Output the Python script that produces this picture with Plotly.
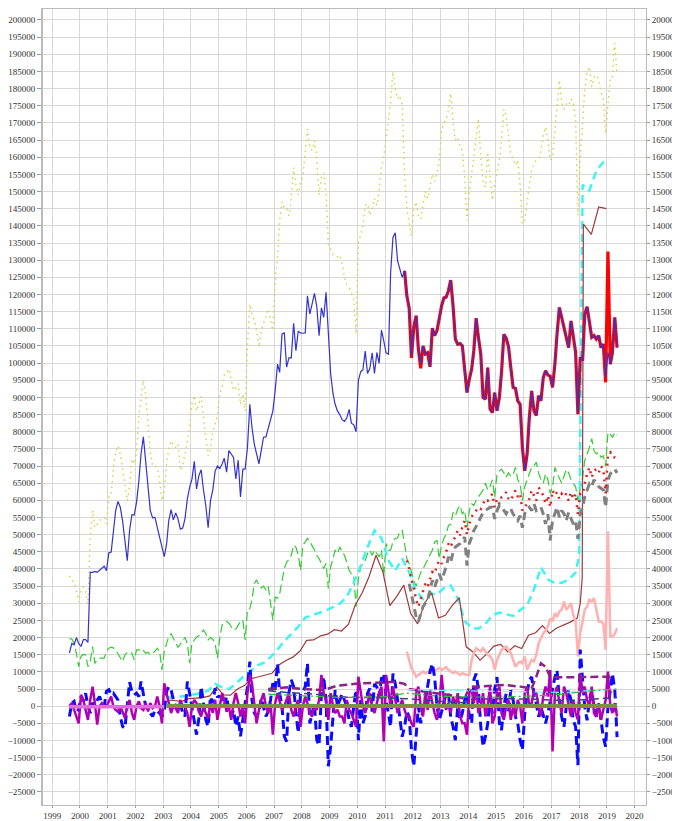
import plotly.graph_objects as go

def months(y, m, n, step=1, day=15):
    out = []
    for i in range(n):
        k = m - 1 + i * step
        out.append(f"{y + k // 12}-{k % 12 + 1:02d}-{day:02d}")
    return out

# ---- values in thousands ----
blue_solid = [
    15.5, 18.3, 17.9, 20.0, 18.3,
    17.4, 19.4, 19.4, 18.6, 39.0, 39.0, 39.3, 39.0, 39.5, 40.2, 40.8, 39.5,
    44.7, 44.9, 50.7, 57.0, 59.7, 58.0, 54.0, 48.3, 42.4, 51.2, 55.8, 55.7,
    59.4, 65.7, 73.5, 78.5, 71.5, 62.3, 57.0, 54.9, 55.0, 52.1, 49.2, 46.3,
    43.6, 47.3, 54.0, 57.3, 54.3, 56.3, 54.6, 51.6, 51.9, 54.6, 60.4, 63.8,
    66.2, 71.4, 63.3, 67.2, 68.9, 63.0, 58.5, 52.0, 59.9, 63.0, 68.5, 70.0,
    69.3, 70.6, 72.3, 68.2, 74.5, 73.5, 72.5, 66.2, 71.7, 61.0, 69.1, 69.1,
    75.4, 88.0, 81.3, 76.4, 73.5, 70.6, 74.5, 78.4, 78.5, 81.0, 84.0, 86.0,
    92.0, 99.7, 97.3, 108.5, 108.8, 98.8, 101.5, 101.5, 111.6, 103.6, 109.3, 108.8,
    108.7, 108.8, 119.6, 114.3, 117.2, 120.3, 116.7, 108.0, 116.1, 113.3, 120.6, 108.5,
    96.8, 91.0, 88.0, 86.0, 85.0, 83.5, 83.0, 84.0, 86.5, 82.5, 82.0, 80.0,
    95.0, 97.5, 98.0, 103.5, 97.0, 98.5, 103.0, 97.0, 103.1, 99.9, 109.6, 106.5,
    103.0, 102.6, 126.0, 136.6, 138.0, 129.8, 127.4, 125.0, 126.9, 119.6, 116.0, 102.1,
    110.6, 113.8, 104.1, 99.7, 105.0, 102.6, 103.0, 98.9, 110.2, 108.0, 109.4, 113.3,
    116.7, 119.0, 119.2, 121.1, 124.2, 116.7, 107.0, 105.5, 105.7, 105.0, 98.7, 91.4,
    95.3, 98.3, 103.6, 113.1, 107.5, 102.6, 90.0, 89.5, 98.7, 86.6, 85.6, 91.4,
    86.1, 90.0, 97.3, 108.4, 107.3, 104.8, 98.7, 92.9, 92.6, 89.0, 88.0, 75.4,
    68.6, 73.5, 84.0, 91.9, 86.1, 84.7, 90.5, 89.0, 95.8, 97.8, 96.5, 96.2,
    92.9, 99.7, 108.4, 116.2, 113.3, 110.4, 107.5, 104.5, 112.3, 108.4, 103.1, 85.1,
    101.7, 100.7, 114.3, 116.4, 112.3, 107.5, 108.0, 107.0, 108.0, 104.5, 105.5, 95.8,
    103.1, 99.7, 103.1, 113.3, 104.5,
]

red_solid = [
    126.9, 119.6, 116.0, 101.5,
    110.6, 113.8, 104.1, 98.5, 105.0, 102.6, 103.0, 98.9, 110.2, 108.0, 109.4, 113.3,
    116.7, 119.0, 119.2, 121.1, 124.2, 116.7, 107.0, 105.5, 105.7, 105.0, 98.7, 91.4,
    95.3, 98.3, 103.6, 113.1, 107.5, 102.6, 90.0, 89.5, 98.7, 86.6, 85.6, 91.4,
    86.1, 90.0, 97.3, 108.4, 107.3, 104.8, 98.7, 92.9, 92.6, 89.0, 88.0, 75.4,
    68.6, 73.5, 84.0, 91.9, 86.1, 84.7, 90.5, 89.0, 95.8, 97.8, 96.5, 96.2,
    92.9, 99.7, 108.4, 116.2, 113.3, 110.4, 107.5, 104.5, 112.3, 108.4, 103.1, 85.1,
    101.7, 100.7, 114.3, 116.4, 112.3, 107.5, 108.0, 107.0, 108.0, 104.5, 105.5, 94.4,
    132.5, 99.7, 103.1, 113.3, 104.5,
]

yellow_dot = [
    38.0, 37.0, 36.0, 33.5, 30.3,
    34.2, 34.7, 33.5, 29.8, 49.7, 57.0, 52.1, 53.1, 54.1, 54.6, 55.0, 53.1,
    60.9, 61.4, 69.1, 74.0, 75.9, 73.5, 69.0, 64.8, 59.9, 63.8, 72.0, 70.6,
    74.0, 85.0, 90.0, 95.0, 91.0, 82.0, 74.0, 70.1, 70.1, 69.6, 65.7, 59.9,
    62.8, 70.6, 75.0, 77.4, 75.9, 75.4, 76.4, 68.7, 70.1, 73.5, 77.4, 81.0,
    88.0, 90.5, 86.0, 88.0, 90.3, 84.0, 78.0, 73.0, 75.0, 80.0, 82.0, 85.0,
    91.0, 93.0, 96.5, 97.0, 98.3, 95.5, 92.0, 93.0, 94.0, 88.0, 91.0, 86.0,
    105.0, 117.2, 114.3, 112.4, 109.5, 104.6, 109.5, 111.6, 113.3, 115.8, 112.4, 109.5,
    124.0, 131.0, 141.5, 147.0, 145.0, 145.0, 143.0, 148.0, 157.0, 152.0, 149.0, 152.5,
    154.6, 161.9, 168.2, 163.0, 162.0, 164.8, 160.0, 149.0, 154.0, 155.5, 150.0, 134.7,
    133.3, 131.6, 131.4, 131.0, 131.5, 129.0, 125.0, 122.8, 122.1, 120.4, 118.5, 108.5,
    135.0, 137.5, 140.0, 146.0, 146.5, 143.0, 145.0, 148.0, 146.0, 150.0, 157.0, 160.0,
    165.0, 170.0, 176.0, 185.0, 180.0, 177.0, 178.0, 175.0, 155.0, 145.0, 141.0, 137.0,
    145.0, 147.0, 143.0, 142.0, 146.0, 150.0, 148.0, 152.0, 155.0, 153.0, 155.2, 159.0,
    168.0, 170.0, 171.0, 173.7, 178.6, 170.0, 165.0, 165.9, 163.0, 162.0, 154.0, 141.5,
    149.8, 155.2, 161.0, 165.9, 171.2, 160.0, 153.2, 151.3, 161.5, 155.0, 147.4, 152.0,
    156.0, 159.1, 165.0, 174.0, 172.0, 166.0, 161.0, 159.5, 157.6, 159.1, 152.0, 140.6,
    141.5, 147.0, 151.3, 156.5, 158.0, 159.1, 159.5, 162.0, 166.3, 168.8, 164.9, 159.1,
    160.0, 168.8, 174.7, 182.5, 176.0, 174.0, 175.5, 175.0, 177.0, 176.0, 170.8, 143.0,
    160.0, 170.0, 179.5, 185.0, 186.4, 180.5, 183.2, 183.9, 182.5, 179.0, 177.0, 166.9,
    176.6, 183.4, 183.5, 193.2, 184.0,
]

green_dash = [
    19.6, 19.6, 18.3, 15.4, 11.5,
    14.5, 15.1, 15.0, 11.5, 13.0, 17.4, 12.5, 13.5, 14.0, 14.0, 14.0, 15.9,
    16.9, 17.2, 17.0, 16.4, 15.4, 14.0, 13.0, 15.0, 15.7, 15.9, 15.4, 13.5,
    16.4, 16.4, 15.9, 16.2, 15.4, 15.7, 15.0, 15.6, 16.0, 16.9, 16.0, 10.6,
    15.9, 18.3, 20.3, 21.1, 19.8, 18.8, 17.2, 18.0, 19.3, 20.1, 18.3, 12.5,
    18.5, 19.3, 20.1, 20.5, 21.5, 22.2, 21.1, 19.3, 20.0, 19.5, 18.3, 14.0,
    19.8, 23.7, 24.2, 24.7, 24.2, 23.2, 22.2, 22.5, 23.5, 24.7, 25.1, 19.3,
    28.1, 28.5, 31.0, 35.8, 36.8, 35.3, 34.4, 35.0, 33.9, 35.0, 30.0, 25.1,
    31.8, 31.5, 32.8, 36.0, 40.0, 42.0, 42.7, 44.0, 46.9, 46.4, 44.0, 39.6,
    46.9, 47.9, 48.9, 48.0, 46.9, 45.5, 44.0, 43.0, 41.6, 40.1, 41.6, 34.3,
    40.6, 43.5, 45.5, 44.5, 46.4, 45.0, 44.0, 42.0, 39.6, 38.6, 38.1, 28.9,
    37.2, 40.6, 41.6, 42.5, 44.5, 45.5, 44.0, 45.5, 44.5, 43.5, 45.5, 38.0,
    47.4, 45.5, 45.5, 47.9, 48.9, 49.0, 50.8, 51.2, 47.4, 43.0, 41.6, 39.1,
    36.5, 35.0, 37.0, 39.0, 40.0, 41.5, 43.0, 44.4, 45.5, 47.8, 48.3, 43.0,
    47.0, 49.0, 50.0, 52.7, 53.0, 56.5, 55.5, 57.5, 58.5, 56.0, 57.0, 52.0,
    57.0, 59.0, 58.5, 60.0, 61.0, 62.0, 63.0, 65.0, 63.0, 64.0, 66.0, 60.9,
    67.7, 68.6, 69.1, 68.0, 66.7, 68.0, 67.0, 67.5, 69.6, 66.0, 64.8, 60.0,
    64.0, 66.0, 68.0, 69.6, 70.0, 71.1, 68.0, 66.0, 65.0, 67.7, 66.0, 62.0,
    64.0, 69.6, 68.0, 66.7, 65.0, 67.0, 69.0, 68.0, 66.0, 65.0, 64.0, 60.0,
    64.0, 66.7, 71.6, 73.5, 75.4, 78.0, 74.5, 73.5, 74.0, 72.5, 73.0, 70.0,
    79.8, 79.3, 78.3, 79.8, 79.0,
]

blue_dash = [
    -3.0, 0.9, 1.4, -1.6, -1.0,
    2.8, 1.4, 3.8, 0.0, -2.0, 1.0, 0.0, 1.8, 2.8, 1.0, 0.0, 4.3,
    4.8, 3.3, 3.8, 2.8, 1.8, -3.0, -5.9, -6.4, 1.5, 7.0, 4.3, 3.3,
    3.8, 2.8, 7.2, 3.8, 0.0, -1.1, -2.0, -3.0, -1.1, -1.6, -2.0, -3.0,
    -1.6, 4.3, 5.7, 4.8, 1.8, 0.0, -1.1, 0.9, -2.0, -3.0, 7.2, 3.8,
    0.0, -4.0, -8.3, -3.5, 5.7, 0.9, -4.0, -5.9, 2.8, 0.9, 5.2, 2.8,
    2.8, 2.3, 0.0, 2.8, -1.1, -3.0, -1.1, -5.9, -3.0, -8.8, -3.0, 0.9,
    5.7, 13.0, 1.8, -2.0, -3.0, -1.6, 2.3, 0.0, -3.0, -1.6, 1.8, 6.7,
    4.8, 12.5, 3.8, 0.0, -8.8, -10.3, 3.8, 7.7, 5.7, -2.0, -7.8, 3.8,
    4.3, 5.7, 12.5, -5.0, -2.0, 0.9, -9.8, -11.5, 3.8, 8.6, 1.8, -17.5,
    -11.7, -2.1, 4.7, 0.0, 1.8, 3.7, 1.8, 0.0, -4.0, -6.0, 0.0, 4.7,
    -9.9, 1.8, -5.0, -3.0, 3.7, 5.2, -1.6, 6.5, 5.6, 2.8, 8.1, 9.5,
    1.8, -3.1, -6.0, 9.5, 6.6, 1.8, -3.1, -8.9, -6.0, -1.6, -3.1, -12.8,
    -17.5, -7.0, 0.0, -5.0, -1.0, 1.7, 6.0, 10.0, 12.4, 8.5, 0.0, -4.1,
    -1.6, 1.7, 3.7, 3.7, -3.1, -6.0, -9.9, 0.0, -4.1, -2.0, 1.7, 3.7,
    -3.1, -5.0, 7.6, 9.5, 4.7, -6.0, -11.8, -8.9, -5.0, 2.7, -2.1, 5.0,
    8.5, -5.0, -7.0, 0.0, 3.7, -1.6, 4.7, 1.7, -3.1, -5.0, -9.9, -12.8,
    -2.1, 3.7, 7.6, 8.5, 3.7, 0.7, -3.1, -0.2, -3.1, -5.0, -2.1, 1.7,
    5.6, 8.5, 10.5, 1.7, -3.1, -6.0, -0.2, 4.7, 1.7, -4.1, -6.0, -17.2,
    16.5, 8.5, -0.2, -4.1, 1.7, 4.7, -0.2, -3.1, 0.7, -4.1, -9.0, -11.8,
    -0.2, 4.7, 9.5, 4.7, -9.0,
]

magenta = [
    0.0, 0.9, -1.0, -3.0, -5.0,
    3.3, 1.8, -1.1, -4.0, 1.8, 5.7, 0.9, -5.4, 0.0, 0.9, 0.0, 0.0,
    1.4, 2.8, 0.0, -1.1, -1.6, 0.0, -1.6, -3.5, 0.0, 1.8, -2.0, -4.0,
    0.0, 1.4, -0.6, -1.1, 0.9, -1.5, 0.9, -0.6, 0.0, 2.8, 0.0, -5.0,
    6.7, 3.8, 0.9, -2.0, 0.0, -0.6, -2.0, 1.8, 0.0, -0.2, -2.0, -6.0,
    0.0, 1.8, 0.9, -1.6, -3.0, 0.0, -2.0, -3.5, 0.9, -2.0, 1.8, -4.0,
    0.0, 3.8, 1.8, -1.6, 0.0, -4.0, 0.9, 3.8, 0.9, -3.0, 0.0, -5.0,
    3.8, 9.1, 6.7, 0.9, -5.0, -1.1, 1.8, 3.8, 0.0, -2.0, 0.9, -8.3,
    0.9, 3.8, 1.8, -1.1, 0.0, 1.8, 3.8, -1.1, -3.0, 0.0, 1.8, -6.0,
    0.0, 2.8, 0.9, -2.0, -3.0, 0.0, -1.1, 1.8, 9.1, 3.8, 1.8, -4.0,
    3.8, 0.0, -2.0, -1.0, -3.0, -3.0, -5.0, 1.8, -1.0, -2.1, -4.0, -6.0,
    8.6, 3.8, 0.0, -2.0, 0.9, 3.8, 0.0, -2.0, 0.9, 3.8, 5.7, -10.3,
    9.1, 3.8, 0.0, 5.7, 1.8, -2.0, 0.0, 1.8, -1.1, -3.0, -3.0, -5.0,
    -6.0, 3.8, 5.7, 0.0, -3.0, 3.8, -1.1, 4.8, 0.9, -2.0, -4.0, 0.0,
    9.1, 1.8, -1.1, 0.9, -2.0, 2.8, 0.0, 3.8, -3.0, -5.0, -5.0, -8.3,
    3.8, 4.8, 0.9, 5.7, -2.0, 0.0, 3.8, -3.0, 0.0, 5.7, -5.0, -3.0,
    3.8, 5.7, -2.0, -4.0, 0.0, 1.8, -4.0, 0.0, -3.0, 1.8, 0.0, -5.0,
    3.8, 5.7, 0.0, 0.9, 4.3, 3.8, 0.0, -3.0, 3.0, 5.7, 2.8, 10.5,
    -13.2, 3.8, 5.7, 0.9, -2.0, 5.7, 3.8, 0.0, -3.0, 1.8, -2.0, -4.0,
    9.6, 3.8, 5.7, 1.8, 0.0, 5.7, -2.0, -3.0, 0.9, -4.0, -1.0, 1.8,
    10.1, 0.0, -2.0, 0.9, -3.0,
]

red_dot = [
    42.5, 40.1, 36.7,
    34.3, 30.9, 29.0, 31.3, 33.3, 35.7, 34.7, 36.7, 39.1, 38.6, 41.0, 42.5,
    41.5, 43.5, 44.9, 47.4, 46.4, 48.3, 49.3, 51.2, 49.8, 52.2, 54.1, 50.0,
    53.1, 55.1, 56.5, 57.0, 58.0, 57.5, 59.0, 60.4, 59.9, 60.9, 61.9, 58.0,
    60.4, 59.0, 60.9, 61.4, 62.4, 60.5, 59.9, 61.4, 62.9, 61.0, 61.9, 57.0,
    58.0, 59.0, 60.4, 62.9, 61.4, 59.9, 63.8, 62.4, 61.4, 59.0, 61.4, 58.0,
    62.9, 61.4, 62.4, 60.4, 61.9, 61.0, 61.9, 59.9, 62.4, 60.4, 61.9, 56.0,
    62.0, 62.0, 64.8, 67.7, 69.6, 66.7, 68.6, 69.1, 68.0, 70.0, 69.0, 62.0,
    73.5, 74.0, 72.5, 72.5, 72.0,
]

gray_dash = [
    35.7, 32.8,
    29.0, 26.0, 24.6, 27.0, 29.0, 30.0, 30.9, 33.8, 36.7, 34.7, 36.7, 38.6,
    36.7, 38.6, 40.5, 43.5, 42.0, 44.9, 46.4, 46.9, 47.4, 48.3, 49.3, 41.0,
    47.4, 49.3, 51.2, 52.4, 53.6, 55.1, 56.5, 57.0, 57.5, 58.0, 58.0, 54.6,
    57.0, 58.5, 58.0, 57.0, 56.1, 57.5, 57.5, 56.0, 55.1, 54.1, 55.5, 52.0,
    56.1, 57.5, 58.0, 57.0, 59.0, 57.0, 57.5, 58.0, 56.0, 53.1, 56.0, 48.3,
    54.1, 56.5, 58.0, 55.1, 57.0, 56.1, 54.1, 56.5, 55.0, 53.1, 54.0, 48.8,
    56.0, 58.0, 61.0, 63.0, 64.8, 64.0, 66.0, 65.0, 64.0, 63.5, 63.0, 58.0,
    66.0, 67.7, 68.6, 69.1, 68.0,
]

pink = [
    15.9, 13.4, 11.0,
    10.0, 8.5, 9.1, 9.5, 10.1, 9.6, 9.9, 10.6, 10.0, 10.3, 10.6, 11.1,
    10.6, 11.0, 11.4, 10.6, 10.0, 9.6, 10.1, 9.5, 9.1, 9.6, 9.3, 9.1,
    9.1, 13.5, 15.5, 16.9, 16.4, 16.0, 16.9, 15.9, 15.0, 14.5, 13.5, 10.6,
    13.5, 15.0, 16.4, 16.9, 17.4, 16.4, 15.5, 13.5, 11.5, 12.5, 13.0, 12.5,
    14.5, 10.6, 12.0, 13.5, 13.0, 15.0, 18.3, 20.0, 21.3, 22.0, 23.2, 25.6,
    24.7, 27.1, 26.0, 27.6, 28.1, 30.5, 28.1, 29.0, 30.0, 26.6, 24.7, 14.5,
    21.3, 24.7, 28.1, 29.0, 31.0, 30.5, 31.5, 28.1, 24.7, 24.7, 24.0, 16.4,
    51.0, 20.3, 20.3, 21.0, 22.7,
]

cyan_q = [
    2.6, 2.5, 2.8, 3.0,
    3.5, 3.8, 4.5, 6.5,
    5.5, 5.0, 6.5, 8.5,
    10.0, 11.8, 12.6, 14.3,
    16.5, 19.0, 21.0, 23.2,
    25.8, 26.5, 27.3, 27.9,
    28.9, 29.9, 31.8, 36.0,
    41.0, 46.4, 51.2, 49.0,
    42.5, 39.5, 43.0, 39.0,
    33.5, 31.2, 32.8, 32.5,
    34.5, 35.2, 31.5, 24.8,
    22.8, 22.6, 24.0, 26.5,
    27.3, 26.8, 26.3, 28.0,
    29.4, 34.0, 40.5, 37.0,
    35.8, 36.0, 36.8, 39.0,
]
cyan_tail_dates = ["2018-01-01", "2018-02-15", "2018-05-15", "2018-08-15", "2018-11-15", "2019-01-25"]
cyan_tail = [44.0, 152.0, 150.3, 156.0, 158.6, 159.3]

brown_q = [
    1.8, 1.5, 1.4, 2.2,
    2.3, 2.5, 3.0, 5.6,
    3.3, 3.2, 5.0, 6.0,
    8.0, 8.5, 9.0, 9.6,
    12.0, 13.3, 14.3, 16.0,
    19.2, 19.3, 20.5, 21.0,
    22.3, 21.9, 23.8, 29.5,
    33.0, 37.8, 44.0, 39.0,
    29.3, 32.0, 35.3, 27.0,
    24.0, 30.0, 33.0, 25.7,
    26.5, 29.4, 31.6, 17.3,
    15.8, 13.4, 15.3, 17.5,
    18.0, 15.8, 17.6, 16.8,
    20.7, 21.4, 23.5, 21.2,
    22.7, 23.5, 24.5, 25.6,
]
brown_tail_dates = ["2018-01-15", "2018-02-10", "2018-02-25", "2018-06-10", "2018-09-15", "2018-12-25"]
brown_tail = [30.0, 37.5, 140.5, 137.5, 145.5, 145.0]

purple_dates = ["2006-10-15", "2007-06-15", "2008-01-15", "2008-10-15", "2009-04-15", "2010-01-15",
                "2010-08-15", "2011-05-15", "2011-09-15", "2011-11-15", "2012-05-15", "2012-11-15",
                "2013-05-15", "2013-11-15", "2014-01-15", "2014-09-15", "2015-04-15", "2015-11-15",
                "2016-04-15", "2016-06-15", "2016-08-15", "2016-10-15", "2016-12-15", "2017-02-15",
                "2018-01-15", "2018-12-15", "2019-02-15"]
purple_vals = [5.0, 5.5, 5.0, 4.7, 6.0, 6.6, 6.8, 7.1, 6.5, 5.0, 4.3, 3.8, 3.2, 2.2, 5.6, 5.9,
               6.2, 5.7, 5.2, 8.6, 12.5, 11.5, 8.5, 8.4, 8.4, 8.4, 8.6]

navy_dates = ["2006-10-15", "2007-06-15", "2008-06-15", "2009-04-15", "2010-06-15", "2011-10-15",
              "2012-10-15", "2013-10-15", "2014-01-15", "2015-06-15", "2016-06-15", "2017-06-15",
              "2018-06-15", "2019-05-15"]
navy_vals = [4.5, 4.0, 3.5, 2.7, 2.5, 2.2, 1.5, 1.0, 2.0, 2.2, 2.0, 1.6, 2.0, 2.6]

cyan_dd_dates = ["2011-10-15", "2013-01-15", "2014-06-15", "2016-01-15", "2017-06-15", "2018-06-15", "2019-05-15"]
cyan_dd_vals = [4.8, 4.6, 4.4, 4.2, 4.0, 4.6, 5.0]

green_dd_dates = ["2006-10-15", "2008-01-15", "2009-06-15", "2011-01-15", "2011-10-15", "2013-01-15",
                  "2015-01-15", "2017-01-15", "2018-06-15", "2019-05-15"]
green_dd_vals = [3.5, 3.0, 2.5, 2.8, 3.8, 2.8, 2.6, 3.2, 4.5, 5.0]

olive_dates = ["2003-02-15", "2019-05-15"]
olive_vals = [0.0, 0.0]
green_zero_dates = ["2003-02-15", "2019-05-15"]
green_zero_vals = [0.5, 0.5]
orchid_dates = ["1999-08-15", "2003-01-15"]
orchid_vals = [-0.2, -0.2]

K = 1000.0

def k(vals):
    return [v * K for v in vals]

fig = go.Figure()

def add(x, y, color, width, dash="solid", yaxis="y"):
    fig.add_trace(go.Scatter(x=x, y=k(y), mode="lines", yaxis=yaxis,
                             line=dict(color=color, width=width, dash=dash),
                             showlegend=False, hoverinfo="skip"))

add(months(1999, 8, len(yellow_dot)), yellow_dot, "#d6d040", 1.4, "1.5px,4px")
add(months(1999, 8, len(green_dash)), green_dash, "#33cc33", 1.2, "9px,4px")
add(months(2003, 2, len(cyan_q), 3) + cyan_tail_dates, cyan_q + cyan_tail, "#40f4f4", 2.5, "8px,5px")
add(months(2003, 3, len(brown_q), 3, 5) + brown_tail_dates, brown_q + brown_tail, "#a03a3a", 1.2)
add(months(2011, 10, len(pink)), pink, "#ffb0b0", 2.5)
add(months(2011, 11, len(gray_dash)), gray_dash, "#808080", 3, "8px,5px")
add(months(2011, 10, len(red_dot)), red_dot, "#dd2222", 2.5, "2px,5px")
add(months(2011, 9, len(red_solid)), red_solid, "#ff0000", 3.2)
add(months(1999, 8, len(blue_solid)), blue_solid, "#3434cc", 1.2)
add(months(1999, 8, len(blue_dash)), blue_dash, "#0a0aff", 3, "9px,5px")
add(months(1999, 8, len(magenta)), magenta, "#b400b4", 2.5)
add(purple_dates, purple_vals, "#882288", 2.5, "8px,4px")
add(navy_dates, navy_vals, "#404088", 1.5, "8px,4px")
add(cyan_dd_dates, cyan_dd_vals, "#70ffff", 1.2, "8px,3px,2px,3px")
add(green_dd_dates, green_dd_vals, "#33bb33", 1.2, "8px,3px,2px,3px")
add(green_zero_dates, green_zero_vals, "#44aa44", 1.0)
add(olive_dates, olive_vals, "#94853e", 3.5)
add(orchid_dates, orchid_vals, "#e06ee0", 3.5, yaxis="y2")

font = dict(family="Liberation Serif", size=9, color="#333333")
yr = [-28800, 203200]
fig.update_layout(
    width=672, height=813,
    margin=dict(l=35, r=29, t=0, b=16),
    paper_bgcolor="white", plot_bgcolor="white",
    font=font,
    xaxis=dict(type="date", range=["1998-09-01", "2020-05-30"], dtick="M12", tick0="1999-01-01",
               tickformat="%Y", showgrid=True, gridcolor="#d8d8d8", gridwidth=1,
               ticks="outside", ticklen=2, tickcolor="#999999",
               showline=True, linecolor="#bbbbbb", linewidth=1, mirror=True,
               zeroline=False, tickfont=font),
    yaxis=dict(range=yr, dtick=5000, tick0=0, tickformat="d", showgrid=True,
               gridcolor="#d8d8d8", gridwidth=1, ticks="outside", ticklen=4,
               tickcolor="#999999", showline=True, linecolor="#bbbbbb", linewidth=2,
               zeroline=False, tickfont=font),
    yaxis2=dict(range=yr, dtick=5000, tick0=0, tickformat="d", overlaying="y", side="right",
                showgrid=False, ticks="outside", ticklen=3, tickcolor="#999999",
                showline=True, linecolor="#bbbbbb", linewidth=1, zeroline=False, tickfont=font),
)

fig.write_html("out.html")
